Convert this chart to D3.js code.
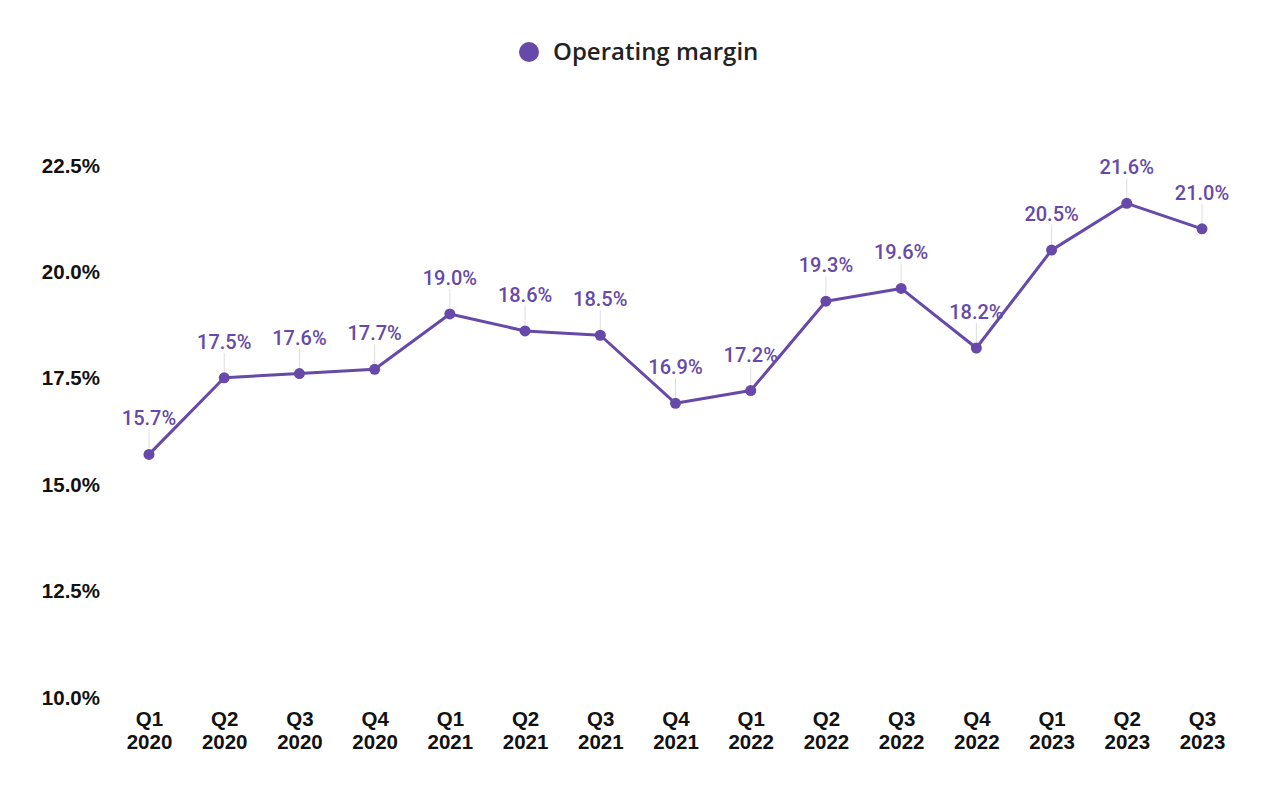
<!DOCTYPE html>
<html>
<head>
<meta charset="utf-8">
<script src="https://cdn.jsdelivr.net/npm/d3@7"></script>
<style>
body{margin:0;background:#fff;}
svg{display:block;}
</style>
</head>
<body>
<svg id="chart" width="1280" height="792"></svg>
<script>
const quarters = ["Q1","Q2","Q3","Q4","Q1","Q2","Q3","Q4","Q1","Q2","Q3","Q4","Q1","Q2","Q3"];
const years = ["2020","2020","2020","2020","2021","2021","2021","2021","2022","2022","2022","2022","2023","2023","2023"];
const margin = [15.7,17.5,17.6,17.7,19.0,18.6,18.5,16.9,17.2,19.3,19.6,18.2,20.5,21.6,21.0];
const yTicks = [10,12.5,15,17.5,20,22.5];
const seriesName = "Operating margin";

const color = "#6649a8";
const svg = d3.select("#chart");
const cats = quarters.map((q,i)=>q+" "+years[i]);
const data = cats.map((c,i)=>({c, q:quarters[i], y:years[i], v:margin[i]}));

const x = d3.scalePoint().domain(cats).range([149,1202]);
const y = d3.scaleLinear().domain([10,22.5]).range([697,165]);

// y axis
const yAxis = svg.append("g").attr("transform","translate(100,0)")
  .call(d3.axisLeft(y).tickValues(yTicks).tickSize(0).tickPadding(0).tickFormat(d=>d3.format(".1f")(d)+"%"));
yAxis.select(".domain").remove();
yAxis.selectAll("text").attr("font-family","Liberation Sans, Arial, sans-serif")
  .attr("font-size",20.5).attr("font-weight","bold").attr("fill","#111").attr("dy","0.35em");

// x axis
const xAxis = svg.append("g").attr("transform","translate(0,705)")
  .call(d3.axisBottom(x).tickSize(0).tickFormat(""));
xAxis.select(".domain").remove();
xAxis.selectAll(".tick").each(function(d,i){
  const t = d3.select(this).append("text").attr("text-anchor","middle")
    .attr("font-family","Liberation Sans, Arial, sans-serif").attr("font-size",20.5)
    .attr("font-weight","bold").attr("fill","#111");
  t.append("tspan").attr("x",0).attr("y",21).text(data[i].q);
  t.append("tspan").attr("x",0).attr("y",44).text(data[i].y);
});

// leader lines
svg.append("g").selectAll("line").data(data).join("line")
  .attr("x1",d=>x(d.c)).attr("x2",d=>x(d.c))
  .attr("y1",d=>y(d.v)-6).attr("y2",d=>y(d.v)-25)
  .attr("stroke","#ddd").attr("stroke-width",1);

// line
svg.append("path").datum(data)
  .attr("fill","none").attr("stroke",color).attr("stroke-width",3).attr("stroke-linejoin","round")
  .attr("d",d3.line().x(d=>x(d.c)).y(d=>y(d.v)));

// points
svg.append("g").selectAll("circle").data(data).join("circle")
  .attr("cx",d=>x(d.c)).attr("cy",d=>y(d.v)).attr("r",5.5).attr("fill",color);

// labels
svg.append("g").selectAll("text").data(data).join("text")
  .attr("x",d=>x(d.c)).attr("y",d=>y(d.v)-36).attr("dy","0.35em")
  .attr("text-anchor","middle").attr("font-family","Roboto, sans-serif")
  .attr("font-size",20).attr("font-weight",500).attr("fill",color)
  .text(d=>d3.format(".1f")(d.v)+"%");

// legend
const lg = svg.append("g");
lg.append("circle").attr("cx",529).attr("cy",52).attr("r",10).attr("fill",color);
lg.append("text").attr("x",553).attr("y",52).attr("dy","0.35em")
  .attr("font-family","Open Sans, Noto Sans, sans-serif").attr("font-size",24).attr("font-weight",600)
  .attr("fill","#222").text(seriesName);
</script>
</body>
</html>
